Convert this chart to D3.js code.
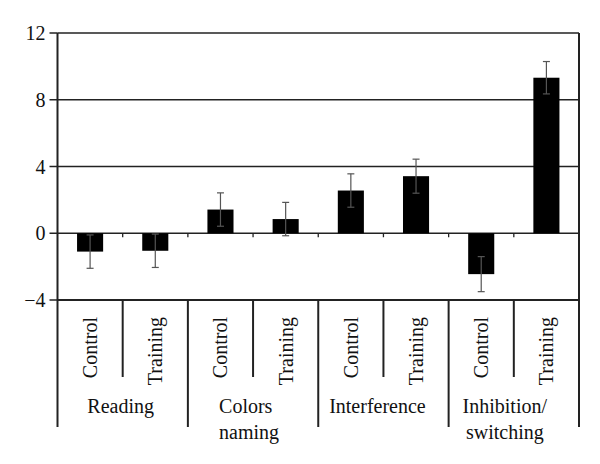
<!DOCTYPE html>
<html>
<head>
<meta charset="utf-8">
<script src="https://cdn.jsdelivr.net/npm/d3@7"></script>
<style>
  body { margin: 0; background: #fff; }
  svg { display: block; }
  text { font-family: "Liberation Serif", "Times New Roman", serif; fill: #111; }
</style>
</head>
<body>
<svg id="chart" width="600" height="464"></svg>
<script>
// ---- data ----
const groups = ["Reading", "Colors naming", "Interference", "Inhibition/ switching"];
const groupLines = [["Reading"], ["Colors", "naming"], ["Interference"], ["Inhibition/", "switching"]];
const conditions = ["Control", "Training"];
const means = [-1.1, -1.05, 1.42, 0.85, 2.56, 3.42, -2.45, 9.32];
const errors = [1.0, 1.0, 1.0, 1.0, 1.0, 1.02, 1.05, 0.97];
const yTicks = [-4, 0, 4, 8, 12];

// ---- layout ----
const plotLeft = 57.5, plotRight = 579, plotTop = 33, plotBottom = 300;
const groupLabelAlign = ["middle", "start", "middle", "middle"];
const groupLabelShift = [-2, -4, -6, -9];

const svg = d3.select("#chart");

const slots = [];
groups.forEach((g, gi) => conditions.forEach((c, ci) => slots.push({ g, gi, c, ci, key: gi + "-" + ci })));
slots.forEach((s, i) => { s.v = means[i]; s.e = errors[i]; });

const x = d3.scaleBand().domain(slots.map(s => s.key)).range([plotLeft, plotRight]).padding(0);
const xg = d3.scaleBand().domain(groups).range([plotLeft, plotRight]).padding(0);
const y = d3.scaleLinear().domain([-4, 12]).range([plotBottom, plotTop]);

const axisColor = "#222";

// gridlines (4, 8, 12) and -4 line
svg.append("g").selectAll("line").data(yTicks.filter(t => t !== 0))
  .join("line")
  .attr("x1", plotLeft).attr("x2", plotRight)
  .attr("y1", d => y(d)).attr("y2", d => y(d))
  .attr("stroke", axisColor).attr("stroke-width", d => d === -4 ? 2 : 1.5);

// zero line
svg.append("line")
  .attr("x1", plotLeft).attr("x2", plotRight)
  .attr("y1", y(0)).attr("y2", y(0))
  .attr("stroke", axisColor).attr("stroke-width", 1.5);

// small ticks below zero line at slot boundaries
const boundaries = slots.slice(1).map(s => x(s.key));
svg.append("g").selectAll("line").data(boundaries).join("line")
  .attr("x1", d => d).attr("x2", d => d)
  .attr("y1", y(0)).attr("y2", y(0) + 4)
  .attr("stroke", axisColor).attr("stroke-width", 1.3);

// bars
const barFrac = 0.4;
svg.append("g").selectAll("rect").data(slots).join("rect")
  .attr("x", d => x(d.key) + x.bandwidth() * (1 - barFrac) / 2)
  .attr("width", x.bandwidth() * barFrac)
  .attr("y", d => y(Math.max(0, d.v)))
  .attr("height", d => Math.abs(y(d.v) - y(0)))
  .attr("fill", "#000");

// error bars
const eb = svg.append("g").attr("stroke", "#555").attr("stroke-width", 1.2);
slots.forEach(d => {
  const cx = x(d.key) + x.bandwidth() / 2;
  const y1 = y(d.v + d.e), y2 = y(d.v - d.e);
  eb.append("line").attr("x1", cx).attr("x2", cx).attr("y1", y1).attr("y2", y2);
  eb.append("line").attr("x1", cx - 3.5).attr("x2", cx + 3.5).attr("y1", y1).attr("y2", y1);
  eb.append("line").attr("x1", cx - 3.5).attr("x2", cx + 3.5).attr("y1", y2).attr("y2", y2);
});

// left axis line and right border (extend into category area)
const catBottom = 427, innerBottom = 377;
svg.append("line").attr("x1", plotLeft).attr("x2", plotLeft).attr("y1", plotTop).attr("y2", catBottom)
  .attr("stroke", axisColor).attr("stroke-width", 2);
svg.append("line").attr("x1", plotRight).attr("x2", plotRight).attr("y1", plotTop).attr("y2", catBottom)
  .attr("stroke", axisColor).attr("stroke-width", 2);

// y ticks
svg.append("g").selectAll("line").data(yTicks).join("line")
  .attr("x1", plotLeft - 8).attr("x2", plotLeft)
  .attr("y1", d => y(d)).attr("y2", d => y(d))
  .attr("stroke", axisColor).attr("stroke-width", 1.5);
svg.append("g").selectAll("text").data(yTicks).join("text")
  .attr("x", plotLeft - 12).attr("y", d => y(d)).attr("dy", "0.35em")
  .attr("text-anchor", "end").attr("font-size", 20)
  .text(d => d < 0 ? "\u2212" + Math.abs(d) : d);

// category separators
groups.forEach((g, gi) => {
  if (gi > 0) {
    svg.append("line").attr("x1", xg(g)).attr("x2", xg(g)).attr("y1", plotBottom).attr("y2", catBottom)
      .attr("stroke", axisColor).attr("stroke-width", 2);
  }
  const mid = x(gi + "-1");
  svg.append("line").attr("x1", mid).attr("x2", mid).attr("y1", plotBottom).attr("y2", innerBottom)
    .attr("stroke", axisColor).attr("stroke-width", 2);
});

// rotated condition labels
svg.append("g").selectAll("text").data(slots).join("text")
  .attr("transform", d => `translate(${x(d.key) + x.bandwidth() / 2},${plotBottom + 17}) rotate(-90)`)
  .attr("text-anchor", "end").attr("dy", "0.35em").attr("font-size", 20)
  .text(d => d.c);

// group labels
groups.forEach((g, gi) => {
  const cx = xg(g) + xg.bandwidth() / 2 + groupLabelShift[gi];
  const lines = groupLines[gi];
  const t = svg.append("text").attr("font-size", 20).attr("y", 413);
  const spans = lines.map((ln, li) => t.append("tspan").attr("dy", li === 0 ? 0 : 25.5).text(ln));
  if (groupLabelAlign[gi] === "start") {
    const w = d3.max(spans, s => s.node().getComputedTextLength());
    spans.forEach(s => s.attr("x", cx - w / 2));
    t.attr("text-anchor", "start");
  } else {
    spans.forEach(s => s.attr("x", cx));
    t.attr("text-anchor", "middle");
  }
});
</script>
</body>
</html>
